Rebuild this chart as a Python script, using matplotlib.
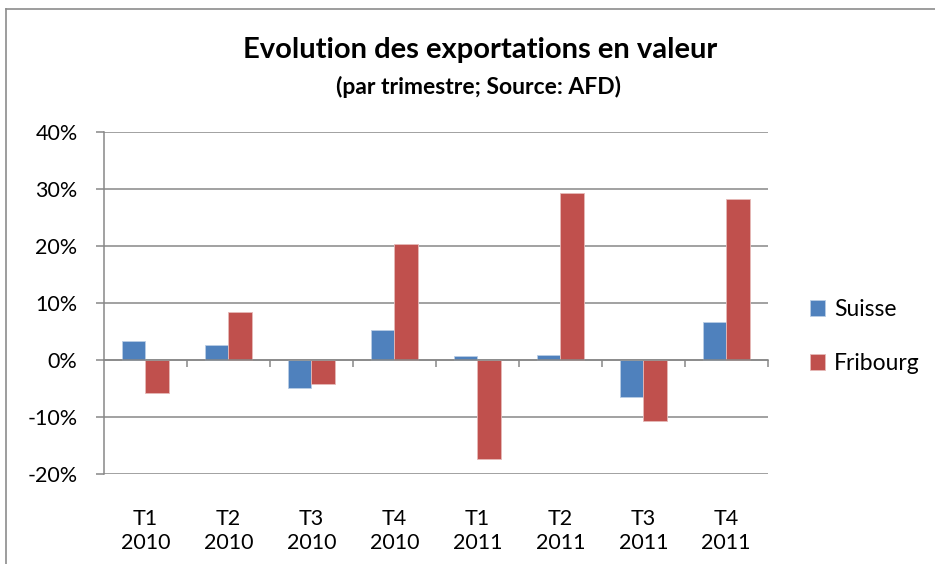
import matplotlib
matplotlib.use('Agg')
import matplotlib.pyplot as plt
from matplotlib.lines import Line2D
from matplotlib.ticker import FuncFormatter
import numpy as np

# Data
categories = ['T1\n2010', 'T2\n2010', 'T3\n2010', 'T4\n2010',
              'T1\n2011', 'T2\n2011', 'T3\n2011', 'T4\n2011']
suisse = [3.4, 2.6, -4.8, 5.2, 0.7, 0.9, -6.4, 6.7]
fribourg = [-5.7, 8.4, -4.1, 20.3, -17.4, 29.2, -10.7, 28.3]
series_names = ['Suisse', 'Fribourg']
y_ticks = [-20, -10, 0, 10, 20, 30, 40]

BLUE = '#4F81BD'
RED = '#C0504D'
GRID = '#878787'
TEXT = '#000000'

plt.rcParams['font.family'] = ['Lato', 'DejaVu Sans']

fig = plt.figure(figsize=(9.35, 5.64), dpi=100)
fig.patch.set_facecolor('white')
ax = fig.add_axes([104 / 935, 1 - 474.3 / 564, (767.7 - 104) / 935, (474.3 - 131.7) / 564])

x = np.arange(len(categories))
w = 1 / 3.5  # Excel gap width 150%
ax.bar(x - w / 2, suisse, w, color=BLUE, edgecolor='#b9cde5', linewidth=0.6, label=series_names[0], zorder=3)
ax.bar(x + w / 2, fribourg, w, color=RED, edgecolor='#e6b9b8', linewidth=0.6, label=series_names[1], zorder=3)

ax.set_xlim(-0.5, len(categories) - 0.5)
ax.set_ylim(-20, 40)
ax.set_yticks(y_ticks)
ax.yaxis.set_major_formatter(FuncFormatter(lambda v, p: f'{v:.0f}%'))
ax.tick_params(axis='y', length=6, width=1.1, color=GRID, pad=13, labelsize=15.5, labelcolor=TEXT)
ax.yaxis.grid(True, color=GRID, linewidth=1.1, zorder=1)

# x axis line at zero with ticks at category boundaries
ax.spines['bottom'].set_position(('data', 0))
ax.spines['bottom'].set_color(GRID)
ax.spines['bottom'].set_linewidth(1.1)
ax.spines['bottom'].set_zorder(4)
ax.set_xticks(np.arange(0.5, len(categories), 1))
ax.tick_params(axis='x', length=5, width=1.1, color=GRID, labelbottom=False)
for s in ['top', 'right']:
    ax.spines[s].set_visible(False)
ax.spines['left'].set_color(GRID)
ax.spines['left'].set_linewidth(1.1)

# category labels at bottom of plot area
sec = ax.secondary_xaxis(0)
sec.set_xticks(x)
sec.set_xticklabels(categories, linespacing=1.25)
sec.tick_params(length=0, pad=25, labelsize=15.5, labelcolor=TEXT)
sec.spines['bottom'].set_visible(False)

leg = ax.legend(loc='center left', bbox_to_anchor=(1.064, 0.402), frameon=False,
                borderpad=0, borderaxespad=0,
                fontsize=16.5, handlelength=0.65, handleheight=0.65, handletextpad=0.4,
                labelspacing=1.45)

fig.text(480 / 935, 1 - 50 / 564, 'Evolution des exportations en valeur',
         ha='center', va='center', fontsize=21, fontweight='bold', color=TEXT)
fig.text(479 / 935, 1 - 87 / 564, '(par trimestre; Source: AFD)',
         ha='center', va='center', fontsize=16.5, fontweight='bold', color=TEXT)

# chart border (cropped on right and bottom)
fig.add_artist(Line2D([6 / 935, 1], [1 - 9 / 564, 1 - 9 / 564], transform=fig.transFigure, color='#8c8c8c', linewidth=1.2))
fig.add_artist(Line2D([6 / 935, 6 / 935], [0, 1 - 9 / 564], transform=fig.transFigure, color='#8c8c8c', linewidth=1.2))

fig.savefig('out.png', dpi=100, facecolor='white')
